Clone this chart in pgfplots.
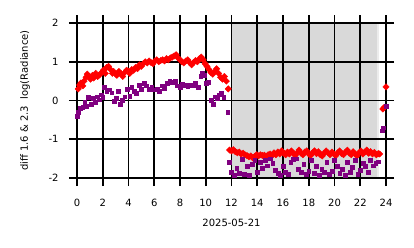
\documentclass[border=0pt]{standalone}
\usepackage{pgfplots}
\pgfplotsset{compat=1.18}
\usepackage{fontspec}
\setmainfont{DejaVu Sans}
\definecolor{mpurple}{RGB}{128,0,128}
\begin{document}
\begin{tikzpicture}
\path[use as bounding box] (-77bp,-70bp) rectangle (337bp,178bp);
\begin{axis}[
  at={(0,0)}, anchor=south west,
  scale only axis, width=309bp, height=155bp,
  xmin=0, xmax=24, ymin=-2, ymax=2,
  xtick={0,2,...,24}, ytick={-2,-1,0,1,2},
  grid=major, grid style={black, line width=1.8bp},
  axis line style={black, line width=1.8bp},
  tick align=outside, major tick length=8bp,
  every tick/.style={black, line width=1.8bp},
  axis on top,
  /pgf/number format/assume math mode=true,
  tick label style={font=\fontsize{10bp}{12bp}\selectfont},
  xticklabel style={yshift=-10bp},
  yticklabel style={xshift=-7bp},
  label style={font=\fontsize{10bp}{12bp}\selectfont},
  xlabel={2025-05-21},
  ylabel={diff 1.6 \& 2.3\ \ log(Radiance)},
  xlabel style={at={(axis description cs:0.5,0)}, anchor=center, yshift=-45bp},
  ylabel style={at={(axis description cs:0,0.5)}, anchor=center, yshift=52bp},
  clip=true,
]
% red series (diamonds)
\addplot[only marks, mark=square*, mark size=2.25bp, color=red, mark options={rotate=45, draw=none, fill=red}] coordinates {
(0.1,0.30)(0.2,0.40)(0.3,0.45)(0.45,0.38)(0.55,0.50)(0.7,0.60)(0.8,0.68)(0.95,0.62)(1.05,0.55)(1.2,0.65)
(1.3,0.58)(1.45,0.70)(1.6,0.62)(1.75,0.66)(1.9,0.72)(2.05,0.78)(2.2,0.70)(2.3,0.85)(2.45,0.88)(2.6,0.80)
(2.75,0.70)(2.85,0.75)(3.0,0.68)(3.1,0.65)(3.25,0.75)(3.4,0.70)(3.55,0.62)(3.7,0.72)(3.85,0.78)(4.0,0.75)
(4.1,0.70)(4.25,0.80)(4.4,0.78)(4.55,0.85)(4.7,0.82)(4.85,0.92)(5.0,0.88)(5.15,0.95)(5.3,1.00)(5.45,0.97)
(5.6,1.02)(5.75,0.98)(5.9,0.95)(6.05,1.02)(6.2,1.05)(6.35,1.00)(6.5,1.03)(6.65,1.05)(6.8,1.02)(6.95,1.08)
(7.1,1.05)(7.25,1.10)(7.4,1.12)(7.55,1.15)(7.7,1.18)(7.85,1.10)(8.0,1.05)(8.15,1.00)(8.3,0.97)(8.45,1.02)
(8.6,1.05)(8.75,0.98)(8.9,0.92)(9.05,0.98)(9.2,1.03)(9.35,1.00)(9.5,1.08)(9.65,1.12)(9.8,1.05)(9.95,0.95)
(10.1,0.88)(10.25,0.80)(10.4,0.72)(10.55,0.68)(10.7,0.75)(10.85,0.82)(11.0,0.70)(11.15,0.60)(11.3,0.55)(11.45,0.62)
(11.6,0.50)(11.75,0.30)
(11.85,-1.28)(12.0,-1.30)(12.15,-1.27)(12.3,-1.32)(12.45,-1.35)(12.6,-1.33)(12.75,-1.38)(12.9,-1.36)(13.05,-1.40)(13.2,-1.42)
(13.35,-1.45)(13.5,-1.43)(13.65,-1.48)(13.8,-1.44)(13.95,-1.40)(14.1,-1.43)(14.25,-1.40)(14.4,-1.42)(14.55,-1.41)(14.7,-1.44)
(14.85,-1.40)(15.0,-1.38)(15.15,-1.42)(15.3,-1.35)(15.45,-1.40)(15.6,-1.33)(15.75,-1.38)(15.9,-1.30)(16.05,-1.36)(16.2,-1.40)
(16.35,-1.33)(16.5,-1.38)(16.65,-1.30)(16.8,-1.36)(16.95,-1.42)(17.1,-1.35)(17.25,-1.28)(17.4,-1.36)(17.55,-1.40)(17.7,-1.33)
(17.85,-1.30)(18.0,-1.38)(18.15,-1.42)(18.3,-1.35)(18.45,-1.30)(18.6,-1.37)(18.75,-1.32)(18.9,-1.40)(19.05,-1.43)(19.2,-1.36)
(19.35,-1.30)(19.5,-1.35)(19.65,-1.40)(19.8,-1.33)(19.95,-1.38)(20.1,-1.42)(20.25,-1.35)(20.4,-1.30)(20.55,-1.37)(20.7,-1.40)
(20.85,-1.33)(21.0,-1.28)(21.15,-1.36)(21.3,-1.40)(21.45,-1.32)(21.6,-1.38)(21.75,-1.43)(21.9,-1.35)(22.05,-1.30)(22.2,-1.38)
(22.35,-1.33)(22.5,-1.28)(22.65,-1.36)(22.8,-1.32)(22.95,-1.38)(23.1,-1.34)(23.25,-1.40)(23.4,-1.37)(23.5,-1.38)
(23.75,-0.22)(23.85,-0.18)(24.0,0.35)
};
% purple series (squares)
\addplot[only marks, mark=square*, mark size=1.9bp, color=mpurple, mark options={draw=none, fill=mpurple}] coordinates {
(0.0,-0.40)(0.1,-0.30)(0.25,-0.20)(0.45,-0.18)(0.6,-0.05)(0.75,-0.15)(0.9,0.08)(1.1,-0.10)(1.25,0.05)(1.4,-0.05)
(1.55,0.10)(1.7,0.02)(1.85,0.15)(2.0,0.08)(2.1,0.35)(2.3,0.25)(2.5,0.28)(2.7,0.20)(2.9,-0.02)(3.05,0.05)
(3.2,0.25)(3.35,-0.10)(3.5,0.00)(3.7,0.10)(3.9,0.30)(4.1,0.12)(4.25,0.35)(4.45,0.25)(4.6,0.18)(4.8,0.40)
(5.0,0.30)(5.2,0.45)(5.4,0.38)(5.6,0.30)(5.8,0.35)(6.0,0.28)(6.2,0.30)(6.4,0.25)(6.6,0.38)(6.8,0.32)
(7.0,0.45)(7.2,0.50)(7.4,0.48)(7.6,0.50)(7.8,0.38)(8.0,0.35)(8.2,0.42)(8.4,0.40)(8.6,0.36)(8.8,0.40)
(9.0,0.38)(9.2,0.45)(9.4,0.35)(9.6,0.62)(9.75,0.70)(9.9,0.65)(10.05,0.45)(10.2,0.48)(10.4,0.00)(10.55,-0.10)
(10.7,0.10)(10.9,0.05)(11.05,0.15)(11.2,0.18)(11.4,0.08)(11.7,-0.30)
(11.85,-1.60)(12.0,-1.85)(12.2,-1.92)(12.4,-1.75)(12.6,-1.88)(12.8,-1.52)(13.0,-1.90)(13.2,-1.70)(13.4,-1.93)(13.6,-1.65)
(13.8,-1.55)(14.0,-1.85)(14.2,-1.60)(14.4,-1.75)(14.6,-1.55)(14.8,-1.68)(15.0,-1.50)(15.2,-1.62)(15.4,-1.80)(15.6,-1.88)
(15.8,-1.92)(16.0,-1.70)(16.2,-1.85)(16.4,-1.90)(16.6,-1.60)(16.8,-1.52)(17.0,-1.50)(17.2,-1.78)(17.4,-1.85)(17.6,-1.65)
(17.8,-1.90)(18.0,-1.82)(18.2,-1.55)(18.4,-1.88)(18.6,-1.70)(18.8,-1.92)(19.0,-1.78)(19.2,-1.85)(19.4,-1.60)(19.6,-1.90)
(19.8,-1.82)(20.0,-1.55)(20.2,-1.70)(20.4,-1.88)(20.6,-1.78)(20.8,-1.92)(21.0,-1.60)(21.2,-1.85)(21.4,-1.72)(21.6,-1.55)
(21.8,-1.90)(22.0,-1.80)(22.2,-1.62)(22.4,-1.70)(22.6,-1.85)(22.8,-1.55)(23.0,-1.68)(23.2,-1.62)(23.4,-1.58)
(23.7,-0.78)(23.8,-0.70)(24.0,-0.15)
};
% night shading
\fill[gray, opacity=0.3] (axis cs:12,-2) rectangle (axis cs:23.3,2);
\fill[gray, opacity=0.15] (axis cs:23.3,-2) rectangle (axis cs:23.45,2);
\end{axis}
\end{tikzpicture}
\end{document}
